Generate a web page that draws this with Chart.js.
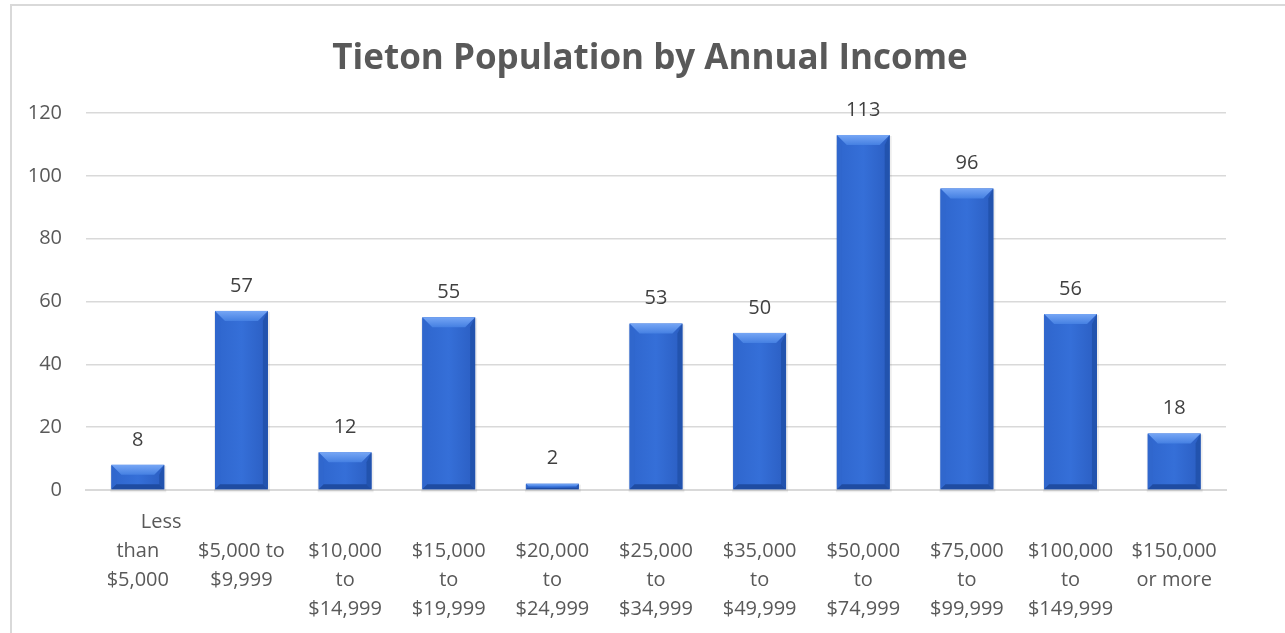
<!DOCTYPE html>
<html>
<head>
<meta charset="utf-8">
<script src="https://cdn.jsdelivr.net/npm/chart.js@4.4.1/dist/chart.umd.min.js"></script>
<style>
  html, body { margin: 0; padding: 0; background: #fff; overflow: hidden; }
  #wrap { position: relative; width: 1285px; height: 633px; }
  #frame { position: absolute; left: 10px; top: 4px; width: 1400px; height: 800px;
           border: 2px solid #d9d9d9; box-sizing: border-box; }
  canvas { position: absolute; left: 0; top: 0; }
</style>
</head>
<body>
<div id="wrap">
  <div id="frame"></div>
  <canvas id="chart" width="1285" height="633"></canvas>
</div>
<script>
// Income brackets (already wrapped the way the axis shows them)
const categories = [
  ['Less', 'than', '$5,000'],
  ['$5,000 to', '$9,999'],
  ['$10,000', 'to', '$14,999'],
  ['$15,000', 'to', '$19,999'],
  ['$20,000', 'to', '$24,999'],
  ['$25,000', 'to', '$34,999'],
  ['$35,000', 'to', '$49,999'],
  ['$50,000', 'to', '$74,999'],
  ['$75,000', 'to', '$99,999'],
  ['$100,000', 'to', '$149,999'],
  ['$150,000', 'or more']
];
const population = [8, 57, 12, 55, 2, 53, 50, 113, 96, 56, 18];
const yTicks = [0, 20, 40, 60, 80, 100, 120];

const FONT = '"Open Sans", sans-serif';

// Beveled bar look, drawn over each bar element
const bevelBars = {
  id: 'bevelBars',
  afterDatasetsDraw(chart) {
    const ctx = chart.ctx;
    const meta = chart.getDatasetMeta(0);
    meta.data.forEach(bar => {
      const { x, y, base, width } = bar.getProps(['x', 'y', 'base', 'width'], true);
      const l = x - width / 2, r = x + width / 2, t = y, b = base;
      const h = b - t;
      const bv = Math.min(10, h / 2);
      ctx.save();
      // soft shadow
      ctx.fillStyle = 'rgba(0,0,0,0.07)';
      ctx.fillRect(l - 1, t + 1, width + 3, h + 2);
      // body
      const g = ctx.createLinearGradient(l, 0, r, 0);
      g.addColorStop(0, '#2f66cd');
      g.addColorStop(0.5, '#356fd8');
      g.addColorStop(1, '#2b5ec2');
      ctx.fillStyle = g;
      ctx.fillRect(l, t, width, h);
      // top bevel (gradient from light edge into body)
      const tg = ctx.createLinearGradient(0, t, 0, t + bv);
      tg.addColorStop(0, '#76a6f5');
      tg.addColorStop(1, '#4580e2');
      ctx.fillStyle = tg;
      ctx.beginPath();
      ctx.moveTo(l, t); ctx.lineTo(r, t); ctx.lineTo(r - bv, t + bv); ctx.lineTo(l + bv, t + bv);
      ctx.closePath(); ctx.fill();
      // left bevel
      ctx.fillStyle = '#3067cd';
      ctx.beginPath();
      ctx.moveTo(l, t); ctx.lineTo(l + bv * 0.5, t + bv); ctx.lineTo(l + bv * 0.5, b - bv * 0.5); ctx.lineTo(l, b);
      ctx.closePath(); ctx.fill();
      // right bevel
      ctx.fillStyle = '#2253ae';
      ctx.beginPath();
      ctx.moveTo(r, t); ctx.lineTo(r - bv * 0.5, t + bv); ctx.lineTo(r - bv * 0.5, b - bv * 0.5); ctx.lineTo(r, b);
      ctx.closePath(); ctx.fill();
      // bottom bevel
      ctx.fillStyle = '#1f4ca2';
      ctx.beginPath();
      ctx.moveTo(l, b); ctx.lineTo(r, b); ctx.lineTo(r - bv * 0.5, b - bv * 0.5); ctx.lineTo(l + bv * 0.5, b - bv * 0.5);
      ctx.closePath(); ctx.fill();
      ctx.restore();
    });
  }
};

// Value labels above the bars
const valueLabels = {
  id: 'valueLabels',
  afterDatasetsDraw(chart) {
    const ctx = chart.ctx;
    const meta = chart.getDatasetMeta(0);
    ctx.save();
    ctx.font = '20px ' + FONT;
    ctx.fillStyle = '#404040';
    ctx.textAlign = 'center';
    ctx.textBaseline = 'middle';
    meta.data.forEach((bar, i) => {
      ctx.fillText(String(population[i]), bar.x, bar.y - 25);
    });
    ctx.restore();
  }
};

// Excel centres the title on the whole frame, not the padded box
const shiftTitle = {
  id: 'shiftTitle',
  afterLayout(chart) {
    const t = chart.titleBlock;
    if (t) { t.left += 32; t.right += 32; }
  }
};

new Chart(document.getElementById('chart'), {
  type: 'bar',
  data: {
    labels: categories,
    datasets: [{
      label: 'Population',
      data: population,
      backgroundColor: 'rgba(0,0,0,0)',
      borderWidth: 0,
      barPercentage: 0.51,
      categoryPercentage: 1.0
    }]
  },
  options: {
    responsive: false,
    animation: false,
    layout: { padding: { left: 10, right: 59, top: 0, bottom: 0 } },
    plugins: {
      legend: { display: false },
      tooltip: { enabled: false },
      title: {
        display: true,
        text: 'Tieton Population by Annual Income',
        color: '#595959',
        font: { family: FONT, size: 35, weight: 'bold' },
        padding: { top: 38, bottom: 33 }
      }
    },
    scales: {
      y: {
        min: 0,
        max: 120,
        afterFit(s) { s.width = 76; },
        afterBuildTicks(s) { s.ticks = yTicks.map(v => ({ value: v })); },
        border: { display: false },
        grid: { color: '#d9d9d9', lineWidth: 1.5, drawTicks: false },
        ticks: {
          color: '#595959',
          font: { family: FONT, size: 20 },
          padding: 24
        }
      },
      x: {
        afterFit(s) { s.height = 143; },
        border: { display: true, color: '#d9d9d9', width: 2 },
        grid: { display: false },
        ticks: {
          color: '#595959',
          font: { family: FONT, size: 20, lineHeight: 1.45 },
          padding: 10,
          maxRotation: 0,
          autoSkip: false,
          callback(value, index) {
            const lines = categories[index].slice();
            if (index === 0) {
              lines[0] = '         ' + lines[0];
              return lines;
            }
            return [''].concat(lines);
          }
        }
      }
    }
  },
  plugins: [bevelBars, valueLabels, shiftTitle]
});
</script>
</body>
</html>
